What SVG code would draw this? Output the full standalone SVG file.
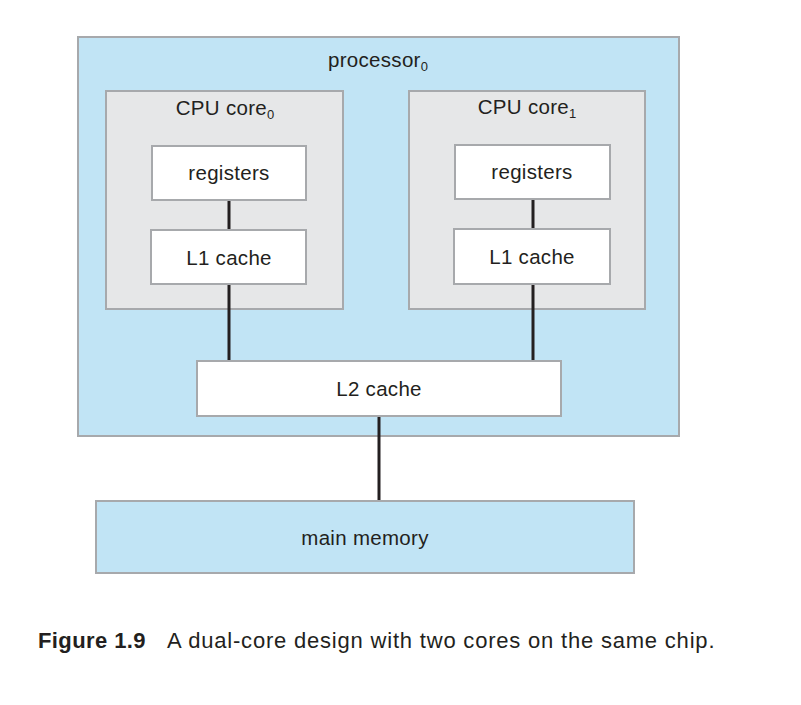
<svg xmlns="http://www.w3.org/2000/svg" width="801" height="705" viewBox="0 0 801 705">
<style>
.blue{fill:#c1e4f5;stroke:#a7a9ac;stroke-width:2}
.core{fill:#e6e7e8;stroke:#a7a9ac;stroke-width:2}
.white{fill:#ffffff;stroke:#a7a9ac;stroke-width:2}
.t{font-family:"Liberation Sans",Arial,sans-serif;font-size:20.5px;letter-spacing:0.3px;fill:#231f20;text-anchor:middle}
.sub{font-size:13px;letter-spacing:0}
.cap{font-family:"Liberation Sans",Arial,sans-serif;font-size:22px;letter-spacing:0.8px;fill:#231f20}
.ln{stroke:#231f20;stroke-width:3;fill:none}
</style>
<rect width="801" height="705" fill="#ffffff"/>
<g id="processor0">
<rect class="blue" x="78" y="37" width="601" height="399"/>
<text class="t" x="378" y="67">processor<tspan class="sub" dy="4">0</tspan></text>
</g>
<g id="core0">
<rect class="core" x="106" y="91" width="237" height="218"/>
<text class="t" x="225" y="115">CPU core<tspan class="sub" dy="4">0</tspan></text>
</g>
<g id="core1">
<rect class="core" x="409" y="91" width="236" height="218"/>
<text class="t" x="527" y="114">CPU core<tspan class="sub" dy="4">1</tspan></text>
</g>
<g id="connectors">
<line class="ln" x1="229" y1="200" x2="229" y2="230"/>
<line class="ln" x1="533" y1="199" x2="533" y2="229"/>
<line class="ln" x1="229" y1="284" x2="229" y2="361"/>
<line class="ln" x1="533" y1="284" x2="533" y2="361"/>
<line class="ln" x1="379" y1="416" x2="379" y2="501"/>
</g>
<g id="registers0">
<rect class="white" x="152" y="146" width="154" height="54"/>
<text class="t" x="229" y="180">registers</text>
</g>
<g id="l1cache0">
<rect class="white" x="151" y="230" width="155" height="54"/>
<text class="t" x="229" y="265">L1 cache</text>
</g>
<g id="registers1">
<rect class="white" x="455" y="145" width="155" height="54"/>
<text class="t" x="532" y="179">registers</text>
</g>
<g id="l1cache1">
<rect class="white" x="454" y="229" width="156" height="55"/>
<text class="t" x="532" y="264">L1 cache</text>
</g>
<g id="l2cache">
<rect class="white" x="197" y="361" width="364" height="55"/>
<text class="t" x="379" y="396">L2 cache</text>
</g>
<g id="mainmemory">
<rect class="blue" x="96" y="501" width="538" height="72"/>
<text class="t" x="365" y="545">main memory</text>
</g>
<text class="cap" x="38" y="648"><tspan font-weight="bold" letter-spacing="0.4">Figure 1.9</tspan><tspan x="167">A dual-core design with two cores on the same chip.</tspan></text>
</svg>
